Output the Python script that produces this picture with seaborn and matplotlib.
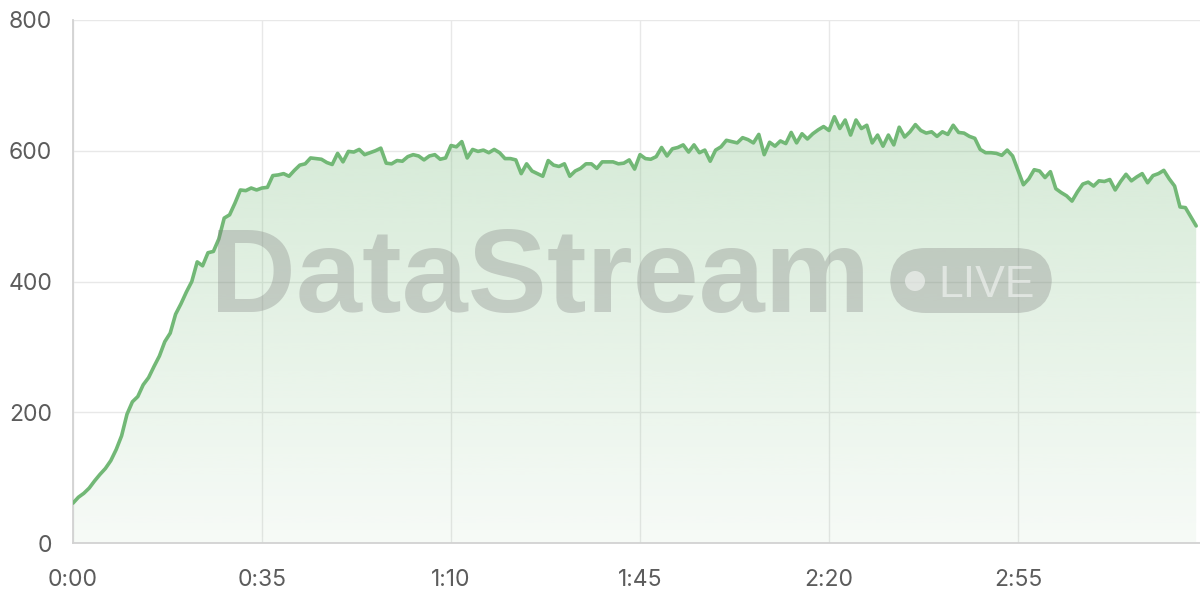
import numpy as np
import matplotlib
matplotlib.use("Agg")
import matplotlib.pyplot as plt
from matplotlib.patches import PathPatch, FancyBboxPatch, Circle
import seaborn as sns

# throughput samples, one per second (0:00 .. 3:28)
values = [
    61, 70, 76, 84, 95, 105, 114, 126, 143, 164,
    197, 216, 224, 242, 253, 270, 286, 308, 321, 350,
    366, 384, 400, 430, 424, 444, 446, 465, 497, 502,
    520, 540, 539, 543, 540, 543, 544, 562, 563, 565,
    561, 570, 578, 580, 589, 588, 587, 582, 579, 596,
    583, 599, 598, 602, 594, 597, 600, 604, 581, 580,
    585, 584, 591, 594, 592, 586, 592, 594, 587, 589,
    608, 606, 614, 589, 602, 599, 601, 597, 602, 597,
    588, 588, 586, 565, 580, 569, 565, 561, 585, 578,
    576, 580, 561, 569, 573, 580, 580, 573, 583, 583,
    583, 580, 581, 586, 572, 594, 588, 587, 591, 605,
    592, 603, 605, 609, 598, 609, 597, 601, 584, 601,
    606, 616, 614, 612, 620, 617, 612, 625, 594, 613,
    607, 615, 611, 628, 612, 626, 618, 626, 632, 637,
    631, 652, 634, 647, 624, 647, 634, 639, 612, 624,
    607, 624, 609, 636, 621, 629, 640, 631, 627, 629,
    622, 629, 625, 639, 628, 627, 622, 619, 602, 597,
    597, 596, 593, 601, 592, 570, 548, 557, 571, 569,
    559, 568, 542, 536, 531, 523, 537, 549, 552, 546,
    554, 553, 556, 540, 553, 564, 554, 560, 565, 551,
    562, 565, 570, 557, 546, 514, 513, 499, 485,
]
seconds = list(range(len(values)))

x_ticks = [0, 35, 70, 105, 140, 175]
x_tick_labels = ["0:00", "0:35", "1:10", "1:45", "2:20", "2:55"]
y_ticks = [0, 200, 400, 600, 800]

LINE = "#72b876"
GRID = "#e8e8e8"

sns.set_style("white")
plt.rcParams["font.family"] = ["Inter", "DejaVu Sans"]

fig = plt.figure(figsize=(12, 6), dpi=100)
ax = fig.add_axes([73 / 1200, 57 / 600, 1127 / 1200, 523 / 600])

sns.lineplot(x=seconds, y=values, ax=ax, color=LINE, linewidth=2.6, zorder=4)

# gradient area under the line
poly = ax.fill_between(seconds, values, 0, color="none", zorder=2)
clip = PathPatch(poly.get_paths()[0], transform=ax.transData,
                 facecolor="none", edgecolor="none")
ax.add_patch(clip)
alphas = np.linspace(0.06, 0.30, 256).reshape(-1, 1)
rgb = matplotlib.colors.to_rgb(LINE)
grad = np.zeros((256, 1, 4))
grad[..., :3] = rgb
grad[..., 3] = alphas
img = ax.imshow(grad, extent=[0, max(seconds), 0, max(values)], origin="lower",
                aspect="auto", zorder=2, interpolation="bicubic")
img.set_clip_path(clip)

ax.set_xlim(0, 1127 / 5.4)
ax.set_ylim(0, 800)
ax.set_xticks(x_ticks)
ax.set_xticklabels(x_tick_labels)
ax.set_yticks(y_ticks)

ax.grid(True, color=GRID, linewidth=1)
ax.set_axisbelow(True)
for side in ["top", "right"]:
    ax.spines[side].set_visible(False)
for side in ["left", "bottom"]:
    ax.spines[side].set_color("#d2d2d2")
    ax.spines[side].set_linewidth(1.3)
ax.tick_params(length=11, width=1, color="#e6e6e6",
               labelsize=16.5, labelcolor="#5c5c5c")
ax.tick_params(axis="y", pad=4)
ax.tick_params(axis="x", pad=8)

# watermark
W, H = 1200, 600
fig.text(210 / W, 1 - 312 / H, "DataStream", fontsize=85.5, fontweight="bold",
         family="Liberation Sans", color="#7f7f7f", alpha=0.32,
         ha="left", va="baseline")
badge = FancyBboxPatch((890 / W, 1 - 313 / H), 162 / W, 65 / H,
                       boxstyle="round,pad=0,rounding_size=0.03",
                       transform=fig.transFigure, facecolor="#7f7f7f",
                       edgecolor="none", alpha=0.32, mutation_aspect=2)
fig.patches.append(badge)
dot = Circle((915, H - 281), 10, transform=None, facecolor="white",
             edgecolor="none", alpha=0.5)
fig.patches.append(dot)
fig.text(938 / W, 1 - 297 / H, "LIVE", fontsize=32, family="Liberation Sans",
         color="white", alpha=0.5, ha="left", va="baseline")

fig.savefig("out.png", dpi=100)
